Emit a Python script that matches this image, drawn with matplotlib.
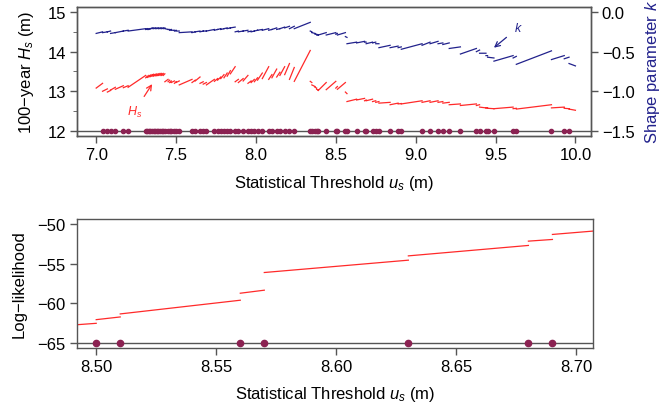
import numpy as np
import matplotlib
matplotlib.use("Agg")
import matplotlib.pyplot as plt

plt.rcParams['font.family'] = ['Liberation Sans', 'DejaVu Sans']
plt.rcParams['mathtext.fontset'] = 'custom'
plt.rcParams['mathtext.it'] = 'Liberation Sans:italic'
plt.rcParams['mathtext.rm'] = 'Liberation Sans'

# ---------------- data: top panel ----------------
u_start, u_end = 7.0, 10.0
dots = [7.04, 7.07, 7.09, 7.12, 7.17, 7.20,
        7.31, 7.32, 7.33, 7.34, 7.35, 7.36, 7.37, 7.38, 7.39, 7.40, 7.41, 7.42,
        7.43, 7.45, 7.46, 7.47, 7.49, 7.50, 7.52,
        7.60, 7.62, 7.65, 7.67, 7.69, 7.74, 7.76, 7.78, 7.80, 7.82, 7.84,
        7.87, 7.89, 7.92, 7.95, 7.97, 7.99, 8.01, 8.04, 8.08, 8.10, 8.13,
        8.15, 8.18, 8.21, 8.24, 8.34, 8.35, 8.37, 8.38, 8.39, 8.44, 8.50,
        8.51, 8.56, 8.57, 8.63, 8.68, 8.69, 8.73, 8.75, 8.77, 8.84, 8.89,
        8.91, 9.04, 9.09, 9.14, 9.17, 9.21, 9.28, 9.38, 9.40, 9.44, 9.45,
        9.49, 9.61, 9.63, 9.85, 9.93, 9.96]

hs_a = [13.08, 13.00, 12.98, 13.03, 13.05, 13.09, 13.10,
        13.34, 13.35, 13.36, 13.37, 13.38, 13.38, 13.39, 13.39, 13.40, 13.40, 13.40, 13.40,
        13.24, 13.24, 13.22, 13.22, 13.20, 13.22,
        13.16, 13.22, 13.26, 13.20, 13.18, 13.16, 13.25, 13.28, 13.32, 13.34, 13.38, 13.44,
        13.24, 13.22, 13.26, 13.20, 13.22, 13.24, 13.28, 13.32, 13.30, 13.34, 13.36, 13.40,
        13.42, 13.30, 13.25, 13.25, 13.16, 13.10, 13.05, 13.02, 13.04, 13.08, 13.05, 12.98,
        12.74, 12.78, 12.76, 12.76, 12.74, 12.72, 12.70, 12.66, 12.68, 12.68, 12.72, 12.72,
        12.72, 12.70, 12.66, 12.64, 12.64, 12.60, 12.58, 12.57, 12.56, 12.56, 12.55, 12.58,
        12.57, 12.55]
hs_b = [13.20, 13.06, 13.02, 13.10, 13.14, 13.14, 13.40,
        13.38, 13.40, 13.41, 13.42, 13.43, 13.43, 13.44, 13.44, 13.45, 13.45, 13.45, 13.44,
        13.30, 13.28, 13.26, 13.26, 13.24, 13.26,
        13.30, 13.28, 13.36, 13.24, 13.22, 13.30, 13.32, 13.36, 13.42, 13.46, 13.52, 13.62,
        13.30, 13.32, 13.40, 13.26, 13.30, 13.34, 13.46, 13.62, 13.42, 13.56, 13.48, 13.62,
        13.70, 13.60, 14.03, 13.22, 13.12, 13.08, 13.03, 13.22, 13.25, 13.12, 13.22, 12.94,
        12.80, 12.82, 12.78, 12.80, 12.76, 12.74, 12.72, 12.70, 12.69, 12.76, 12.76, 12.76,
        12.74, 12.72, 12.68, 12.68, 12.66, 12.58, 12.58, 12.56, 12.60, 12.57, 12.66, 12.60,
        12.56, 12.52]
k_a = [-0.27, -0.26, -0.25, -0.27, -0.26, -0.24, -0.24,
       -0.22, -0.22, -0.22, -0.21, -0.21, -0.21, -0.21, -0.21, -0.21, -0.21, -0.21, -0.21,
       -0.21, -0.22, -0.23, -0.23, -0.24, -0.24,
       -0.26, -0.26, -0.25, -0.25, -0.24, -0.24, -0.23, -0.22, -0.22, -0.21, -0.21, -0.20,
       -0.25, -0.25, -0.24, -0.25, -0.25, -0.24, -0.23, -0.23, -0.23, -0.22, -0.22, -0.21,
       -0.20, -0.21, -0.21, -0.24, -0.26, -0.28, -0.29, -0.29, -0.29, -0.28, -0.29, -0.31,
       -0.40, -0.39, -0.38, -0.40, -0.39, -0.40, -0.45, -0.45, -0.45, -0.47, -0.42, -0.40,
       -0.40, -0.41, -0.46, -0.53, -0.50, -0.52, -0.55, -0.57, -0.62, -0.58, -0.66, -0.60,
       -0.59, -0.65]
k_b = [-0.25, -0.25, -0.24, -0.26, -0.24, -0.23, -0.21,
       -0.21, -0.21, -0.21, -0.20, -0.20, -0.20, -0.20, -0.20, -0.20, -0.20, -0.20, -0.20,
       -0.22, -0.22, -0.22, -0.23, -0.23, -0.24,
       -0.25, -0.25, -0.24, -0.24, -0.24, -0.22, -0.22, -0.21, -0.21, -0.20, -0.20, -0.19,
       -0.24, -0.24, -0.23, -0.24, -0.24, -0.23, -0.22, -0.21, -0.22, -0.20, -0.21, -0.19,
       -0.18, -0.18, -0.13, -0.25, -0.27, -0.28, -0.29, -0.26, -0.26, -0.27, -0.26, -0.32,
       -0.38, -0.37, -0.38, -0.38, -0.38, -0.40, -0.42, -0.43, -0.44, -0.40, -0.38, -0.37,
       -0.39, -0.39, -0.44, -0.46, -0.48, -0.52, -0.55, -0.58, -0.55, -0.56, -0.49, -0.55,
       -0.57, -0.68]

# ---------------- data: bottom panel ----------------
ll_dots = [8.50, 8.51, 8.56, 8.57, 8.63, 8.68, 8.69]
ll_u0, ll_u1 = 8.49, 8.71
ll_a = [-62.72, -62.04, -61.32, -58.72, -56.12, -54.03, -52.18, -51.34]
ll_b = [-62.50, -61.70, -59.60, -58.34, -54.57, -52.72, -51.97, -50.84]

RED = '#ff2a2a'
BLUE = '#22228c'
DOT = '#8b2252'
FRAME = '#555555'
FS = 12


def seg_xy(bounds, a, b):
    xs, ys = [], []
    for i in range(len(a)):
        xs += [bounds[i], bounds[i + 1], np.nan]
        ys += [a[i], b[i], np.nan]
    return np.array(xs), np.array(ys)


def style(ax):
    for s in ax.spines.values():
        s.set_color(FRAME)
        s.set_linewidth(1.0)
    ax.tick_params(direction='out', color=FRAME, labelsize=FS, length=5, width=1, pad=3)


fig = plt.figure(figsize=(6.61, 4.14), dpi=100)

# ---------- top ----------
ax1 = fig.add_axes([0.1165, 0.670, 0.777, 0.310])
bounds = np.r_[u_start, dots, u_end]
x, y = seg_xy(bounds, hs_a, hs_b)
ax1.plot(x, y, color=RED, lw=0.9)
ax1.axhline(12, color=FRAME, lw=1.0)
ax1.plot(dots, np.full(len(dots), 12.0), 'o', color=DOT, ms=3.0, mec=DOT)
ax1.set_xlim(6.88, 10.095)
ax1.set_ylim(11.88, 15.12)
ax1.set_yticks([12, 13, 14, 15])
ax1.set_yticks([12.5, 13.5, 14.5], minor=True)
ax1.set_xticks([7.0, 7.5, 8.0, 8.5, 9.0, 9.5, 10.0])
ax1.set_xticklabels(['7.0', '7.5', '8.0', '8.5', '9.0', '9.5', '10.0'])
style(ax1)
ax1.tick_params(which='minor', direction='out', color=FRAME, length=3)
ax1.set_ylabel('100\u2212year $H_s$ (m)', fontsize=FS, labelpad=8)
ax1.set_xlabel('Statistical Threshold $u_s$ (m)', fontsize=FS, labelpad=8)
ax1.annotate('$H_s$', xy=(7.35, 13.18), xytext=(7.24, 12.49), color=RED,
             fontsize=9, ha='center', va='center',
             arrowprops=dict(arrowstyle='->', color=RED, lw=0.9, shrinkA=4, shrinkB=0))

ax2 = ax1.twinx()
x, y = seg_xy(bounds, k_a, k_b)
ax2.plot(x, y, color=BLUE, lw=0.9)
ax2.set_ylim(-1.56, 0.06)
ax2.set_yticks([0.0, -0.5, -1.0, -1.5])
ax2.set_yticklabels(['0.0', '\u22120.5', '\u22121.0', '\u22121.5'])
style(ax2)
ax2.set_ylabel('Shape parameter $k$', color=BLUE, fontsize=FS, labelpad=6)
ax2.annotate('$k$', xy=(9.49, -0.45), xytext=(9.64, -0.2), color=BLUE,
             fontsize=9, ha='center', va='center',
             arrowprops=dict(arrowstyle='->', color=BLUE, lw=0.9, shrinkA=4, shrinkB=0))

# ---------- bottom ----------
ax3 = fig.add_axes([0.1165, 0.157, 0.781, 0.3116])
lb = np.r_[ll_u0, ll_dots, ll_u1]
x, y = seg_xy(lb, ll_a, ll_b)
ax3.plot(x, y, color=RED, lw=0.9)
ax3.axhline(-65, color=FRAME, lw=1.0)
ax3.plot(ll_dots, np.full(len(ll_dots), -65.0), 'o', color=DOT, ms=4.5, mec=DOT)
ax3.set_xlim(8.492, 8.707)
ax3.set_ylim(-65.6, -49.4)
ax3.set_xticks([8.50, 8.55, 8.60, 8.65, 8.70])
ax3.set_xticklabels(['8.50', '8.55', '8.60', '8.65', '8.70'])
ax3.set_yticks([-65, -60, -55, -50])
ax3.set_yticklabels(['\u221265', '\u221260', '\u221255', '\u221250'])
style(ax3)
ax3.set_ylabel('Log\u2212likelihood', fontsize=FS, labelpad=8)
ax3.set_xlabel('Statistical Threshold $u_s$ (m)', fontsize=FS, labelpad=7)

fig.savefig('out.png', dpi=100)
